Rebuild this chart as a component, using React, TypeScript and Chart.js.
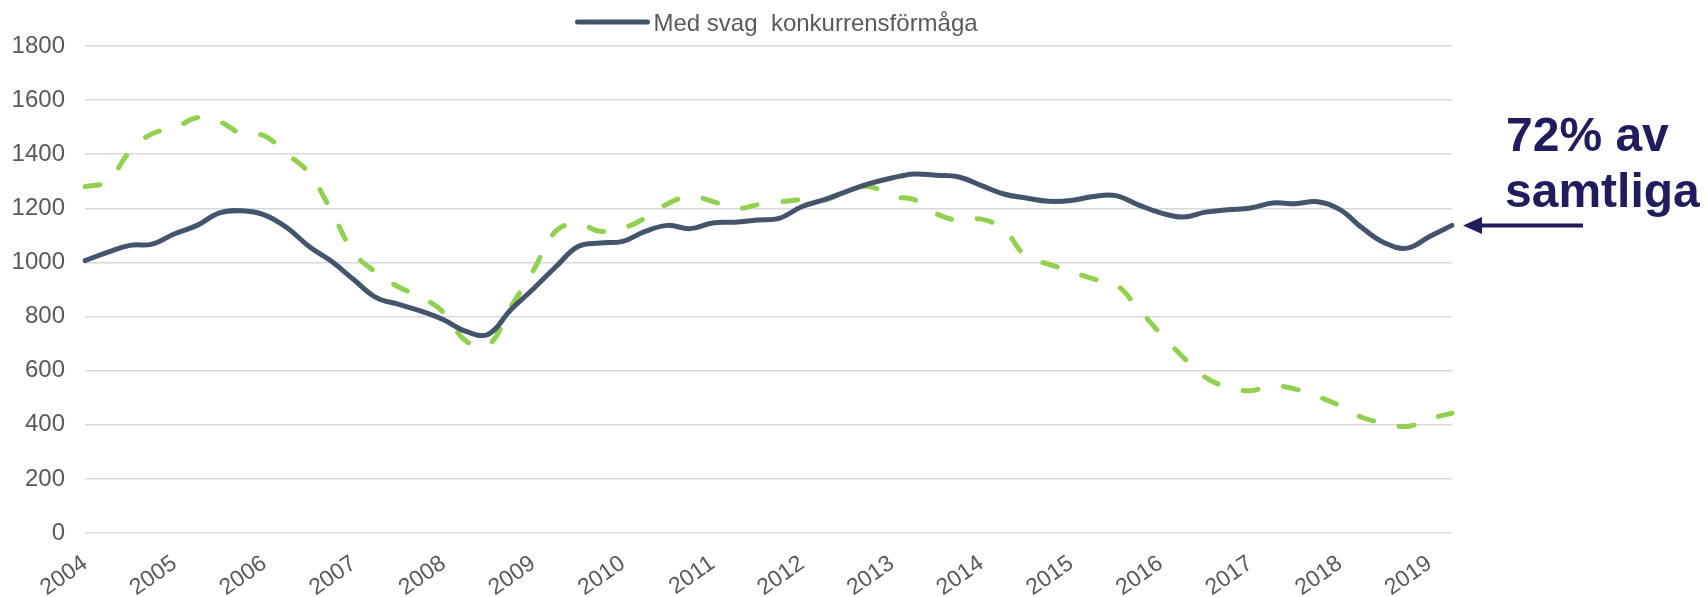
import React, { useEffect, useRef } from "react";
import { Chart, registerables } from "chart.js";

Chart.register(...registerables);

// Years on the axis (one label per first quarter)
const years: number[] = [2004, 2005, 2006, 2007, 2008, 2009, 2010, 2011, 2012, 2013, 2014, 2015, 2016, 2017, 2018, 2019];

// Quarterly periods 2004 K1 – 2019 K2
const periods: string[] = years.flatMap((yr) => (yr === 2019 ? ["K1", "K2"] : ["K1", "K2", "K3", "K4"]).map((q) => `${yr} ${q}`));

// Series: "Med svag  konkurrensförmåga" (solid)
const svag: number[] = [
  1007, 1037, 1063, 1068, 1106, 1137, 1183, 1191, 1176, 1129,
  1059, 1004, 936, 870, 845, 820, 788, 745, 735, 825,
  902, 983, 1059, 1072, 1078, 1115, 1137, 1125, 1146, 1149,
  1157, 1164, 1207, 1232, 1263, 1291, 1312, 1327, 1322, 1316,
  1284, 1253, 1238, 1226, 1229, 1244, 1247, 1213, 1183, 1168,
  1186, 1195, 1201, 1220, 1217, 1224, 1195, 1127, 1072, 1053,
  1096, 1137,
];

// Series: comparison (green dashed, not in legend)
const jamforelse: number[] = [
  1280, 1300, 1410, 1476, 1497, 1535, 1520, 1476, 1468, 1402,
  1330, 1189, 1035, 963, 909, 872, 815, 710, 695, 835,
  969, 1115, 1143, 1115, 1127, 1164, 1217, 1244, 1226, 1199,
  1213, 1224, 1232, 1231, 1263, 1281, 1244, 1232, 1180, 1155,
  1160, 1121, 1022, 994, 967, 939, 918, 829, 736, 650,
  575, 539, 526, 544, 532, 505, 470, 427, 406, 394,
  422, 443,
];

const yTickValues: number[] = [0, 200, 400, 600, 800, 1000, 1200, 1400, 1600, 1800];

const legendLabel = "Med svag  konkurrensförmåga";
const annotationLines: string[] = ["72% av", "samtliga"];

const FONT = '"Liberation Sans", Arial, Helvetica, sans-serif';
const SOLID = "#44546A";
const GREEN = "#92D050";
const TEXT = "#595959";
const NAVY = "#201C5E";

const overlayPlugin = {
  id: "overlay",
  afterDraw(chart: any) {
    const { ctx, chartArea } = chart;
    const yScale = chart.scales.y;
    ctx.save();

    // Legend (single entry)
    const center = (chartArea.left + chartArea.right) / 2;
    const lx = center - 191;
    const ly = 22;
    ctx.strokeStyle = SOLID;
    ctx.lineWidth = 5;
    ctx.lineCap = "round";
    ctx.beginPath();
    ctx.moveTo(lx, ly);
    ctx.lineTo(lx + 70, ly);
    ctx.stroke();
    ctx.fillStyle = TEXT;
    ctx.font = `24px ${FONT}`;
    ctx.textAlign = "left";
    ctx.textBaseline = "alphabetic";
    ctx.fillText(legendLabel, lx + 76, 31);

    // Arrow pointing to the last value of the solid series
    const ay = yScale.getPixelForValue(svag[svag.length - 1]);
    const tipX = chartArea.right + 11;
    ctx.strokeStyle = NAVY;
    ctx.fillStyle = NAVY;
    ctx.lineWidth = 4;
    ctx.lineCap = "butt";
    ctx.beginPath();
    ctx.moveTo(tipX + 14, ay);
    ctx.lineTo(chartArea.right + 131, ay);
    ctx.stroke();
    ctx.beginPath();
    ctx.moveTo(tipX, ay);
    ctx.lineTo(tipX + 19, ay - 8.5);
    ctx.lineTo(tipX + 19, ay + 8.5);
    ctx.closePath();
    ctx.fill();

    // Annotation text
    ctx.font = `bold 48px ${FONT}`;
    ctx.textAlign = "left";
    ctx.textBaseline = "alphabetic";
    ctx.fillText(annotationLines[0], chartArea.right + 54, ay - 74);
    ctx.fillText(annotationLines[1], chartArea.right + 53, ay - 18);

    ctx.restore();
  },
};

export default function App() {
  const canvasRef = useRef<HTMLCanvasElement | null>(null);

  useEffect(() => {
    if (!canvasRef.current) return;
    const chart = new Chart(canvasRef.current, {
      type: "line",
      data: {
        labels: periods,
        datasets: [
          {
            label: legendLabel,
            data: svag,
            borderColor: SOLID,
            backgroundColor: SOLID,
            borderWidth: 5,
            borderCapStyle: "round",
            borderJoinStyle: "round",
            pointRadius: 0,
            tension: 0.4,
            fill: false,
            order: 1,
          },
          {
            label: "Jämförelse",
            data: jamforelse,
            borderColor: GREEN,
            backgroundColor: GREEN,
            borderWidth: 5,
            borderDash: [15, 26],
            borderCapStyle: "round",
            borderJoinStyle: "round",
            pointRadius: 0,
            tension: 0.4,
            fill: false,
            order: 2,
          },
        ],
      },
      options: {
        responsive: false,
        animation: false,
        devicePixelRatio: 1,
        layout: { padding: { top: 46, right: 254, bottom: 0, left: 0 } },
        plugins: {
          legend: { display: false },
          tooltip: { enabled: false },
        },
        scales: {
          x: {
            type: "category",
            offset: false,
            grid: { display: false, drawTicks: false },
            border: { display: false },
            ticks: {
              autoSkip: false,
              minRotation: 35,
              maxRotation: 35,
              padding: 17,
              color: TEXT,
              font: { family: FONT, size: 23 },
              callback: (_v: any, i: number) => (periods[i].endsWith("K1") ? periods[i].slice(0, 4) : ""),
            },
            afterFit: (scale: any) => {
              scale.height = 64;
            },
          },
          y: {
            min: 0,
            max: 1800,
            grid: { color: "#D9D9D9", lineWidth: 1.5, drawTicks: false },
            border: { display: false },
            afterBuildTicks: (scale: any) => {
              scale.ticks = yTickValues.map((v) => ({ value: v }));
            },
            ticks: {
              padding: 20,
              color: TEXT,
              font: { family: FONT, size: 24 },
              callback: (v: any) => String(v),
            },
            afterFit: (scale: any) => {
              scale.width = 85;
            },
          },
        },
      },
      plugins: [overlayPlugin],
    });
    return () => chart.destroy();
  }, []);

  return (
    <div style={{ position: "fixed", left: 0, top: 0, width: 1706, height: 597, background: "#fff" }}>
      <canvas ref={canvasRef} width={1706} height={597} style={{ width: 1706, height: 597 }} />
    </div>
  );
}
